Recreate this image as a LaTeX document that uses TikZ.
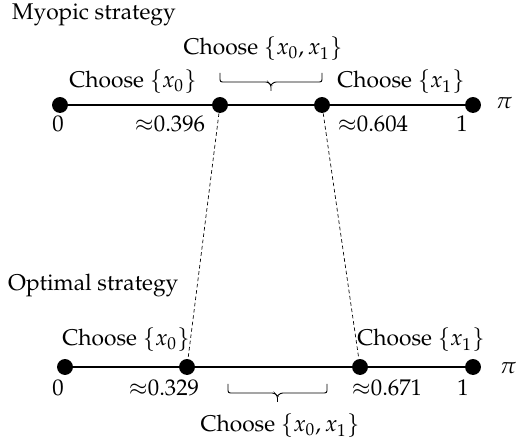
\documentclass[tikz,border=0pt]{standalone}
\usepackage[T1]{fontenc}
\usepackage{mathpazo}
\tikzset{
  dot/.style={circle,fill=black,inner sep=0pt,minimum size=7pt},
  lbl/.style={inner sep=0.75pt},
  axis/.style={line width=0.9pt},
  guide/.style={dash pattern=on 1.6pt off 1.2pt,line width=0.3pt},
  bracket/.style={line width=0.4pt,rounded corners=1pt},
}
% underbrace-like bracket: #1 left x, #2 right x, #3 top y
\newcommand{\bracebar}[3]{%
  \pgfmathsetmacro{\bmid}{(#1+#2)/2}
  \draw[bracket] (#1,#3) -- (#1,#3+9) -- (\bmid-3,#3+9) -- (\bmid,#3+12) -- (\bmid,#3+18);
  \draw[bracket] (#2,#3) -- (#2,#3+9) -- (\bmid+3,#3+9) -- (\bmid,#3+12);
}
\begin{document}
\begin{tikzpicture}[x=0.44pt,y=0.44pt,yscale=-1,xscale=1]
\useasboundingbox (0,0) rectangle (518,443);
% myopic strategy
\node[lbl,anchor=west] (myopic) at (10,15) {Myopic strategy};
\node[dot] (m0) at (60,105) {};
\node[dot] (m1) at (220,105) {};
\node[dot] (m2) at (322,105) {};
\node[dot] (m3) at (473,105) {};
\draw[axis] (m0) -- (m1) -- (m2) -- (m3);
\node[lbl] (mpi) at (504,103) {$\pi$};
\node[lbl] (mz) at (58,124) {0};
\node[lbl] (mlo) at (170,124) {$\approx$0.396};
\node[lbl] (mhi) at (373,124) {$\approx$0.604};
\node[lbl] (mone) at (462,124) {1};
\node[lbl] (mx0) at (133,82) {Choose $\{x_0\}$};
\node[lbl] (mx1) at (401,82) {Choose $\{x_1\}$};
\bracebar{220}{322}{73}
\node[lbl] (mboth) at (263,49) {Choose $\{x_0,x_1\}$};
% optimal strategy
\node[lbl,anchor=west] (optimal) at (6,285) {Optimal strategy};
\node[dot] (o0) at (65,367) {};
\node[dot] (o1) at (187,367) {};
\node[dot] (o2) at (360,367) {};
\node[dot] (o3) at (473,367) {};
\draw[axis] (o0) -- (o1) -- (o2) -- (o3);
\node[lbl] (opi) at (508,368) {$\pi$};
\node[lbl] (oz) at (58,388) {0};
\node[lbl] (olo) at (164,388) {$\approx$0.329};
\node[lbl] (ohi) at (387,388) {$\approx$0.671};
\node[lbl] (oone) at (463,388) {1};
\node[lbl] (ox0) at (126,340) {Choose $\{x_0\}$};
\node[lbl] (ox1) at (421,340) {Choose $\{x_1\}$};
\bracebar{228}{327}{384}
\node[lbl] (oboth) at (280,426) {Choose $\{x_0,x_1\}$};
% dashed guides
\draw[guide] (m1) -- (o1);
\draw[guide] (m2) -- (o2);
\end{tikzpicture}
\end{document}
